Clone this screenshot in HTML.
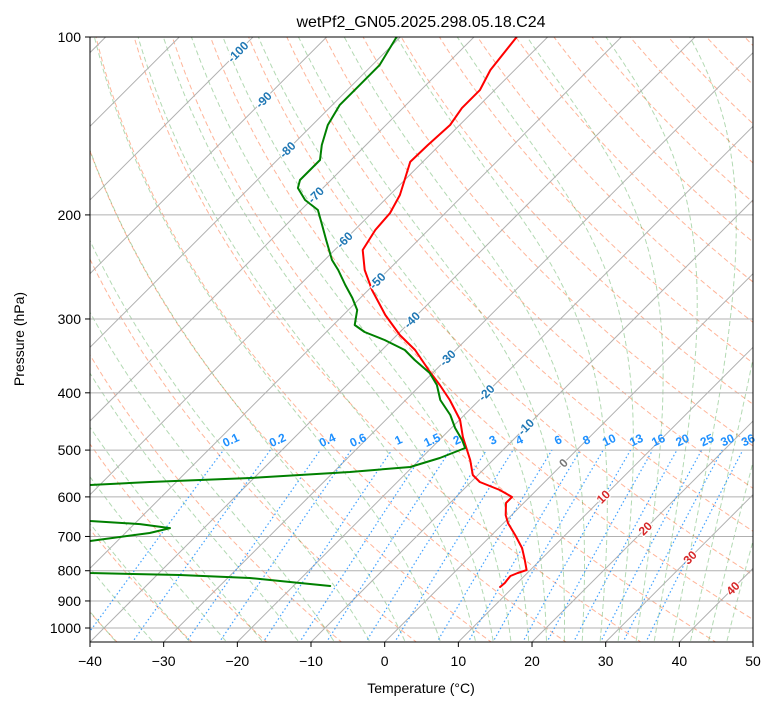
<!DOCTYPE html>
<html><head><meta charset="utf-8"><style>
body{margin:0;background:#fff}
svg{display:block;font-family:"Liberation Sans","DejaVu Sans",sans-serif}
</style></head><body>
<svg id="chart" width="775" height="708" viewBox="0 0 775 708" xmlns="http://www.w3.org/2000/svg">
<defs><clipPath id="clip"><rect x="90" y="37" width="663" height="605"/></clipPath></defs>
<rect width="775" height="708" fill="#fff"/>
<g id="bg" clip-path="url(#clip)"></g>
<g id="prof" clip-path="url(#clip)"></g>
<g id="lbl"></g>
<rect x="90" y="37" width="663" height="605" fill="none" stroke="#000" stroke-width="1"/>
<g id="axes"></g>
<text x="421" y="27" text-anchor="middle" font-size="16">wetPf2_GN05.2025.298.05.18.C24</text>
<text x="421" y="693" text-anchor="middle" font-size="14">Temperature (°C)</text>
<text x="24" y="339" text-anchor="middle" font-size="14" transform="rotate(-90 24 339)">Pressure (hPa)</text>
</svg>
<script>
const tempP=[100,113.7,122.9,131.9,140.9,152.3,162.7,174.6,185.1,198.6,212.1,229.3,247.9,268,295.4,319.4,338.6,368.8,388,411.4,444.7,475.3,519.6,551,566.2,584.2,600.3,614.5,644,664.4,696.2,732.4,767.4,797.9,807.2,816.6,829.5,839.3,852.4];
const tempT=[-64.2,-63.3,-62,-62,-61.3,-61.6,-61.7,-60,-58.6,-57.5,-57.2,-56.2,-53.2,-49.5,-44.3,-39.6,-35.5,-30.5,-27.4,-24,-19.9,-17.2,-13.1,-10.7,-8.8,-5,-2.4,-2.4,-0.8,0.6,3.2,5.9,7.9,9.5,8.7,8.1,8.2,8.3,8.2];
const dewP=[100,111.5,120.5,130.3,140.9,152.3,161.5,167.9,174.6,180.1,188.7,196.2,208,220.6,238.4,247.9,262.8,276.4,289.7,307.1,315.6,325.6,338.6,352,370.3,388,411.4,436.1,458.7,480.8,496,515.6,534,544.5,557.5,566.2,572.8,607.4,644,659.2,667.2,677.6,690.6,712.5,752.5,807.2,813.5,823.1,839.3,848.9];
const dewT=[-80.5,-79,-79,-79,-77.9,-76,-74.2,-74.2,-74.2,-73.4,-70.8,-67.7,-65.1,-62.5,-59,-56.8,-53.8,-51.1,-48.8,-47.1,-44.8,-41,-36.9,-34.2,-30.4,-27.8,-25.3,-21.9,-19.5,-16.9,-15.4,-17.5,-20.3,-27.8,-40.5,-53.6,-61.3,-66.1,-64,-56.4,-49.2,-44.6,-46.7,-53.7,-58.6,-49.4,-36.9,-27,-19.5,-15];
const mixW=[0.1,0.2,0.4,0.6,1,1.5,2,3,4,6,8,10,13,16,20,25,30,36];
const isoLabelT=[-100,-90,-80,-70,-60,-50,-40,-30,-20,-10,0,10,20,30,40];
const isoLabelP=[106,127.8,155.2,185.1,220.6,258.6,301.2,349.3,400,457,526,600,679,760,857];
const xTicks=[-40,-30,-20,-10,0,10,20,30,40,50];
const pTicks=[100,200,300,400,500,600,700,800,900,1000];

const NS="http://www.w3.org/2000/svg",K=7.367,X0=90,YB=642;
function yP(p){return 37+591*(Math.log10(p)-2);}
function xT(T,p){return X0+(T+40)*K+(YB-yP(p));}
function mk(tag,at,par){const e=document.createElementNS(NS,tag);for(const k in at)e.setAttribute(k,at[k]);par.appendChild(e);return e;}
function pathD(ps,ts){return ps.map((p,i)=>(i?'L':'M')+xT(ts[i],p).toFixed(1)+','+yP(p).toFixed(1)).join('');}
const bg=document.getElementById('bg'),prof=document.getElementById('prof'),lbl=document.getElementById('lbl'),axes=document.getElementById('axes');
const pp=[];for(let lp=Math.log(1060);lp>=Math.log(99);lp-=0.02)pp.push(Math.exp(lp));
for(let t0=-40;t0<=200;t0+=10){const th=t0+273.15;const e=mk('path',{d:pathD(pp,pp.map(p=>th*Math.pow(p/1000,0.2857)-273.15)),fill:'none',stroke:'orangered','stroke-opacity':0.4,'stroke-width':1,'stroke-dasharray':'5,3'},bg);
}
function es(Tc){return 6.112*Math.exp(17.67*Tc/(Tc+243.5));}
function dTdlnp(T,p){const Tc=T-273.15,e=es(Tc),rs=0.622*e/(p-e);return (287.04*T+2.501e6*rs)/(1004.6+2.501e6*2.501e6*rs*0.622/(287.04*T*T));}
const mt=[];for(let t=-40;t<=10;t+=5)mt.push(t);for(let t=12.5;t<=45;t+=2.5)mt.push(t);
mt.forEach(t0=>{const P=[],Tt=[];let T=t0+273.15,lp=Math.log(1000);
for(;lp>=Math.log(99);lp-=0.01){P.push(Math.exp(lp));Tt.push(T-273.15);T-=dTdlnp(T,Math.exp(lp))*0.01;}
let T2=t0+273.15;const P2=[],T2s=[];for(let l=Math.log(1000);l<=Math.log(1060);l+=0.01){P2.push(Math.exp(l));T2s.push(T2-273.15);T2+=dTdlnp(T2,Math.exp(l))*0.01;}
const e=mk('path',{d:pathD(P2.reverse().concat(P),T2s.reverse().concat(Tt)),fill:'none',stroke:'green','stroke-opacity':0.3,'stroke-width':1,'stroke-dasharray':'5,3'},bg);
});
pTicks.forEach(p=>{const e=mk('line',{x1:90,x2:753,y1:yP(p),y2:yP(p),stroke:'#b0b0b0','stroke-width':1},bg);
});
for(let T=-200;T<=50;T+=10){const e=mk('line',{x1:xT(T,1060),y1:yP(1060),x2:xT(T,99),y2:yP(99),stroke:'#b0b0b0','stroke-width':1},bg);
}
function tdW(w,p){const e=w*p/(622+w),l=Math.log(e/6.112);return 243.5*l/(17.67-l);}
const mp=[];for(let lp=Math.log(1060);lp>=Math.log(500);lp-=0.05)mp.push(Math.exp(lp));mp.push(500);
mixW.forEach(w=>{const e=mk('path',{d:pathD(mp,mp.map(p=>tdW(w,p))),fill:'none',stroke:'dodgerblue','stroke-opacity':0.85,'stroke-width':1.2,'stroke-dasharray':'1.5,2.5'},bg);

const x=xT(tdW(w,481),481),y=yP(481);
const t=mk('text',{x:x,y:y+4,'text-anchor':'middle','font-size':12,'font-weight':'bold',fill:'dodgerblue',transform:`rotate(-25 ${x} ${y})`},lbl);t.textContent=String(w);
});
isoLabelT.forEach((T,i)=>{const p=isoLabelP[i],x=xT(T,p),y=yP(p);const c=T<0?'#1f77b4':(T==0?'#777':'#d62728');
const t=mk('text',{x:x,y:y+4,'text-anchor':'middle','font-size':12,'font-weight':'bold',fill:c,transform:`rotate(-45 ${x} ${y})`,stroke:'#fff','stroke-width':2.5,'paint-order':'stroke'},lbl);t.textContent=String(T);
});
const tp=mk('path',{d:pathD(tempP,tempT),fill:'none',stroke:'red','stroke-width':2,'stroke-linejoin':'round','stroke-linecap':'round'},prof);

const dp=mk('path',{d:pathD(dewP,dewT),fill:'none',stroke:'green','stroke-width':2,'stroke-linejoin':'round','stroke-linecap':'round'},prof);

xTicks.forEach(T=>{const x=X0+(T+40)*K;mk('line',{x1:x,x2:x,y1:642,y2:647,stroke:'#000'},axes);
const t=mk('text',{x:x,y:666,'text-anchor':'middle','font-size':14},axes);t.textContent=T<0?'\u2212'+(-T):String(T);
});
pTicks.forEach(p=>{const y=yP(p);mk('line',{x1:85,x2:90,y1:y,y2:y,stroke:'#000'},axes);
const t=mk('text',{x:81,y:y+5,'text-anchor':'end','font-size':14},axes);t.textContent=String(p);
});
</script>
</body></html>
